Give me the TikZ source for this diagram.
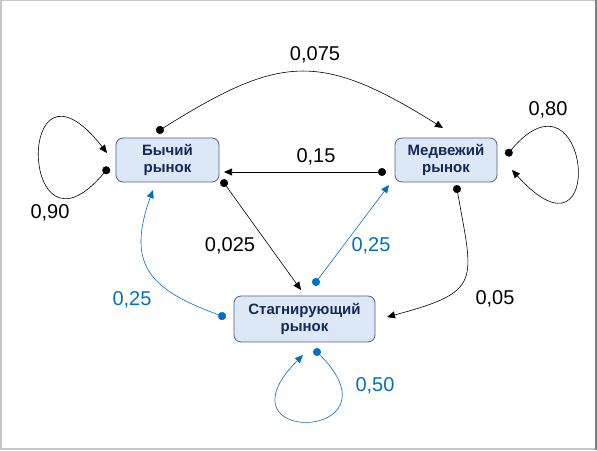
\documentclass[tikz,border=0pt]{standalone}
\usepackage{fontspec}
\setmainfont{Liberation Sans}
\usetikzlibrary{arrows.meta}
\definecolor{statefill}{RGB}{220,232,246}
\definecolor{stateline}{RGB}{78,94,140}
\definecolor{statetext}{RGB}{22,40,88}
\definecolor{flowblue}{RGB}{0,112,192}

\begin{document}
\begin{tikzpicture}[x=1pt,y=1pt]
  \useasboundingbox (0,0) rectangle (597,450);
  % frame
  \draw[line width=2pt,black!22] (1,0) -- (1,450);
  \draw[line width=1pt,black!22] (0,449.5) -- (597,449.5);
  \draw[line width=2pt,black!22] (0,1) -- (597,1);
  \draw[line width=1.5pt,black!50] (596,0) -- (596,450);
  \begin{scope}[
    every node/.style={draw=stateline,fill=statefill,rounded corners=7pt,
      line width=0.8pt,inner sep=0pt,align=center,text=statetext,
      font=\bfseries\fontsize{15}{17}\selectfont},
    ]
    \node[minimum width=103pt,minimum height=44pt] (bull) at (167.5,290) {Бычий\\рынок};
    \node[minimum width=102pt,minimum height=44pt] (bear) at (446,290) {Медвежий\\рынок};
    \node[minimum width=141pt,minimum height=46pt] (stag) at (304.5,131) {Стагнирующий\\рынок};
  \end{scope}
  % ends of the connectors
  \coordinate (bull-out1) at (156.6,317.9);
  \coordinate (bull-out2) at (221.7,270.2);
  \coordinate (bull-self) at (108.8,282.8);
  \coordinate (bull-in1) at (224,278);
  \coordinate (bull-in2) at (153,260);
  \coordinate (bull-in3) at (107,297);
  \coordinate (bear-out1) at (386,278);
  \coordinate (bear-out2) at (456.3,264.9);
  \coordinate (bear-self) at (506.2,294.2);
  \coordinate (bear-in1) at (443,322);
  \coordinate (bear-in2) at (389,265);
  \coordinate (bear-in3) at (512,280);
  \coordinate (stag-out1) at (313.6,164.8);
  \coordinate (stag-out2) at (225.8,132.6);
  \coordinate (stag-self) at (314.2,100.8);
  \coordinate (stag-in1) at (301,160);
  \coordinate (stag-in2) at (387,133);
  \coordinate (stag-in3) at (303,95);
  \begin{scope}[
    every path/.style={draw,line width=0.6pt},
    >={Triangle[length=8pt,width=7pt]},
    flow/.style={{Circle[length=8pt]}->},
    blueflow/.style={flow,draw=flowblue},
    ]
    \path[flow] (bull-out1) to[out=32,in=148,looseness=1.3] (bear-in1);
    \path[flow] (bear-out1) -- (bull-in1);
    \path[flow] (bull-out2) -- (stag-in1);
    \path[flow] (bear-out2) to[out=-80,in=15,looseness=1.7] (stag-in2);
    \path[blueflow] (stag-out1) -- (bear-in2);
    \path[blueflow] (stag-out2) to[out=160,in=-110,looseness=1.4] (bull-in2);
    \path[flow] (bull-self) .. controls +(230:140) and +(128:150) .. (bull-in3);
    \path[flow] (bear-self) .. controls +(50:130) and +(-48:145) .. (bear-in3);
    \path[blueflow] (stag-self) .. controls +(-45:130) and +(-135:130) .. (stag-in3);
  \end{scope}
  \begin{scope}[every node/.style={font=\fontsize{20}{24}\selectfont}]
    \node (p-bull-bear) at (315,395) {0,075};
    \node (p-bear-bull) at (316,293) {0,15};
    \node (p-bull-stag) at (230,204) {0,025};
    \node[text=flowblue] (p-stag-bear) at (371,204) {0,25};
    \node (p-bear-stag) at (495,151) {0,05};
    \node[text=flowblue] (p-stag-bull) at (132,150) {0,25};
    \node[text=flowblue] (p-stag-stag) at (375,64) {0,50};
    \node (p-bull-bull) at (50,237) {0,90};
    \node (p-bear-bear) at (548,340) {0,80};
  \end{scope}
\end{tikzpicture}
\end{document}
